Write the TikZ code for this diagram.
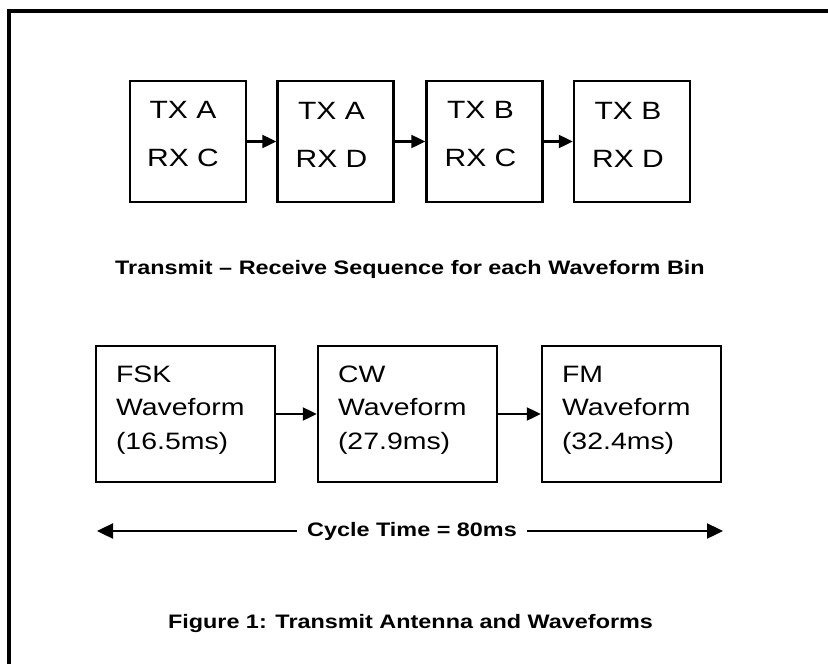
\documentclass[tikz,border=0pt]{standalone}
\usepackage{fontspec}
\setmainfont{Liberation Sans}[FakeStretch=1.2]
\usetikzlibrary{arrows.meta}
\begin{document}
\begin{tikzpicture}[x=1pt,y=-1pt,
  tbox/.style={draw,line width=2.4pt,minimum width=116pt,minimum height=121pt,inner sep=0pt},
  ttext/.style={align=center,inner sep=0pt,font=\fontsize{25}{48}\selectfont},
  wbox/.style={draw,line width=2.4pt,minimum width=179pt,minimum height=136pt,inner sep=0pt},
  wtext/.style={anchor=west,inner sep=0pt,align=left,font=\fontsize{23.7}{33.5}\selectfont},
  flow/.style={line width=2.2pt,-{Triangle[length=14pt,width=13pt]}},
  span/.style={line width=2.4pt,-{Triangle[length=16pt,width=15pt]}},
  caption/.style={inner sep=0pt,font=\fontsize{19.5}{22}\selectfont\bfseries}]
\useasboundingbox (0,0) rectangle (828,664);
\fill[white] (0,0) rectangle (828,664);
% outer frame (right and bottom edges lie outside the picture)
\draw[line width=4pt] (9,670) -- (9,11) -- (835,11);
% top row
\node[tbox] (b1) at (188,141.5) {};
\node[tbox] (b2) at (335.5,141.5) {};
\node[tbox] (b3) at (484.5,141.5) {};
\node[tbox] (b4) at (632,141.5) {};
\node[ttext] (t1) at ([xshift=-5pt,yshift=7pt]b1.center) {TX A\\RX C};
\node[ttext] (t2) at ([xshift=-4pt,yshift=7pt]b2.center) {TX A\\RX D};
\node[ttext] (t3) at ([xshift=-4pt,yshift=7pt]b3.center) {TX B\\RX C};
\node[ttext] (t4) at ([xshift=-4pt,yshift=7pt]b4.center) {TX B\\RX D};
\draw[flow] (b1) -- (b2);
\draw[flow] (b2) -- (b3);
\draw[flow] (b3) -- (b4);
\node[caption] (cap1) at (410,269) {Transmit – Receive Sequence for each Waveform Bin};
% bottom row
\node[wbox] (w1) at (185.5,414) {};
\node[wbox] (w2) at (407.5,414) {};
\node[wbox] (w3) at (631.5,414) {};
\node[wtext] (x1) at ([xshift=21pt,yshift=4pt]w1.west) {FSK\\Waveform\\(16.5ms)};
\node[wtext] (x2) at ([xshift=21pt,yshift=4pt]w2.west) {CW\\Waveform\\(27.9ms)};
\node[wtext] (x3) at ([xshift=21pt,yshift=4pt]w3.west) {FM\\Waveform\\(32.4ms)};
\draw[flow] (w1) -- (w2);
\draw[flow] (w2) -- (w3);
% cycle time
\node[caption,inner xsep=10pt] (cyc) at (412,531) {Cycle Time = 80ms};
\coordinate (cl) at (97,531);
\coordinate (cr) at (723,531);
\draw[span] (cyc.west) -- (cl);
\draw[span] (cyc.east) -- (cr);
\node[caption] (cap2) at (410.5,623) {Figure 1: Transmit Antenna and Waveforms};
\end{tikzpicture}
\end{document}
